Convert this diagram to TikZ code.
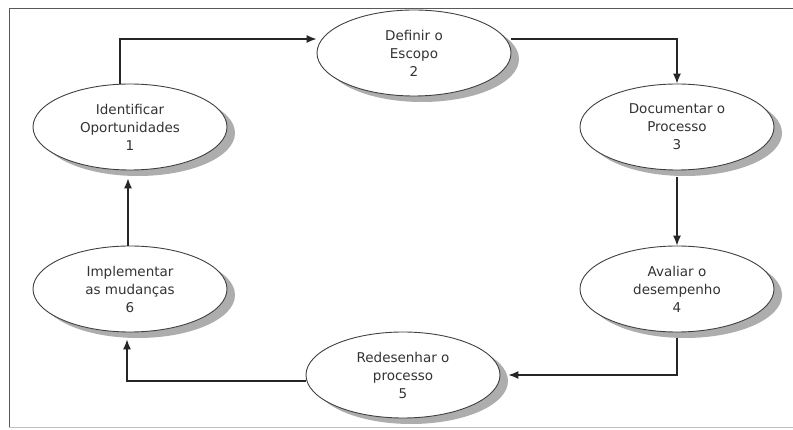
\documentclass[tikz,border=0pt]{standalone}
\usepackage{fontspec}
\setmainfont{DejaVu Sans}
\usetikzlibrary{shapes.geometric,shadows,arrows.meta}

\begin{document}
\begin{tikzpicture}[x=1pt,y=-1pt,
etapa/.style={draw=black!75, line width=0.9pt, fill=white, shape=ellipse, minimum width=194pt, minimum height=86pt, inner sep=0pt, align=center, text=black!80, font=\fontsize{13.5}{18}\selectfont, drop shadow={shadow xshift=8pt, shadow yshift=-6pt, fill=black!32, opacity=1}},
seta/.style={draw=black!85, line width=1.2pt, -{Latex[length=10pt,width=8pt]}}]
\useasboundingbox (0,0) rectangle (793,430);
\draw[black!65, line width=0.9pt] (793,8) -- (9,8) -- (9,427);
\draw[black!25, line width=0.8pt] (9,427) -- (793,427);
% etapas do ciclo
\node[etapa] (identificar) at (130,127) {Identificar\\Oportunidades\\1};
\node[etapa] (definir) at (414,53) {Definir o\\Escopo\\2};
\node[etapa] (documentar) at (677,127) {Documentar o\\Processo\\3};
\node[etapa] (avaliar) at (677,289) {Avaliar o\\desempenho\\4};
\node[etapa] (redesenhar) at (403,375) {Redesenhar o\\processo\\5};
\node[etapa] (implementar) at (130,289) {Implementar\\as mudanças\\6};
% ligacoes
\draw[seta] ([xshift=-10pt]identificar.north) |- ([yshift=14pt]definir.west);
\draw[seta] ([yshift=14pt]definir.east) -| (documentar.north);
\draw[seta, shorten <=7pt] (documentar.south) -- (avaliar.north);
\draw[seta, shorten <=6pt, shorten >=8pt] (avaliar.south) |- (redesenhar.east);
\draw[seta, shorten >=7pt] ([yshift=-6pt]redesenhar.west) -| ([xshift=-3pt]implementar.south);
\draw[seta, shorten >=8pt] ([xshift=-2pt]implementar.north) -- ([xshift=-2pt]identificar.south);
\end{tikzpicture}
\end{document}
